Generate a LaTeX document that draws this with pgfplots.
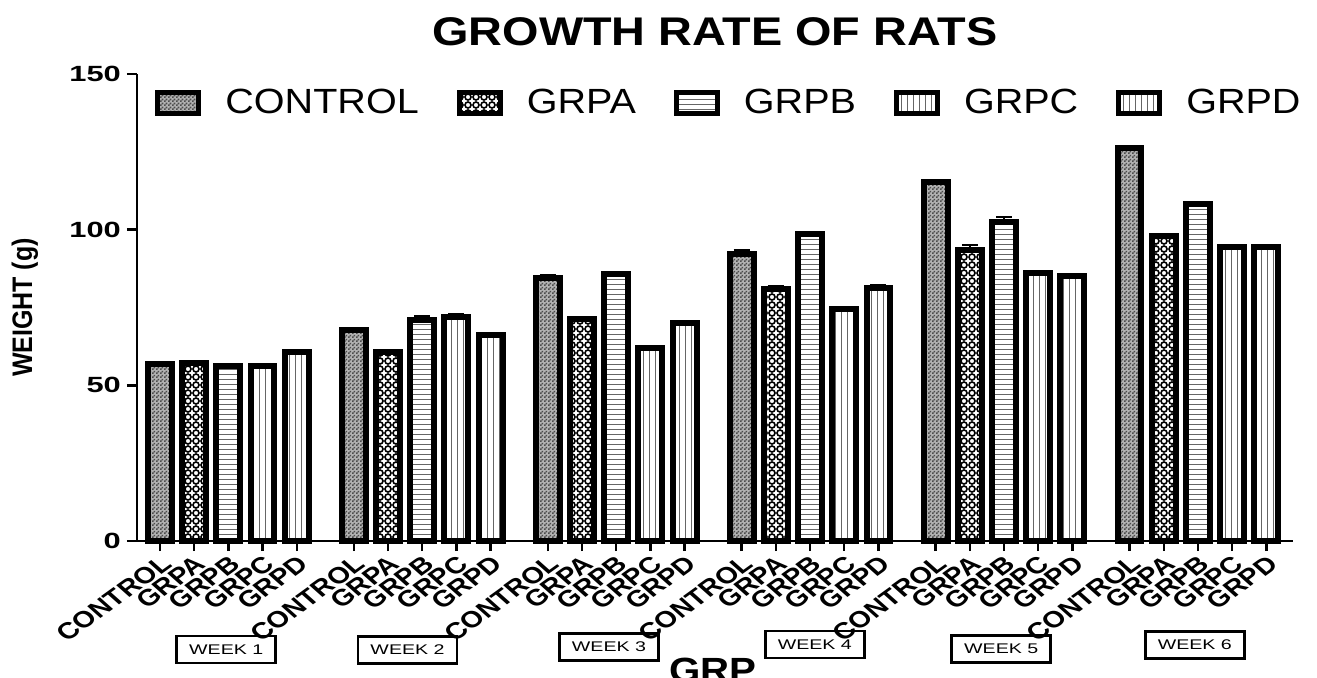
\documentclass[border=0pt]{standalone}
\usepackage{fontspec}
\setmainfont{Liberation Sans}
\usepackage{graphicx}
\usepackage{pgfplots}
\pgfplotsset{compat=1.18}
\usepackage{pgfplotstable}
\usetikzlibrary{patterns}

\pgfdeclarepatternformonly{circlechain}{\pgfqpoint{-0.5pt}{-0.5pt}}{\pgfqpoint{4.5pt}{4.5pt}}{\pgfqpoint{4pt}{4pt}}{%
  \pgfsetlinewidth{0.8pt}%
  \pgfpathcircle{\pgfqpoint{2pt}{2pt}}{1.5pt}%
  \pgfusepath{stroke}}
\pgfdeclarepatternformonly{hlinesfine}{\pgfqpoint{-1pt}{-1pt}}{\pgfqpoint{10pt}{3pt}}{\pgfqpoint{9pt}{2.5pt}}{%
  \pgfsetlinewidth{0.7pt}%
  \pgfpathmoveto{\pgfqpoint{-1pt}{1.25pt}}%
  \pgfpathlineto{\pgfqpoint{10pt}{1.25pt}}%
  \pgfusepath{stroke}}
\pgfdeclarepatternformonly{finecheck}{\pgfqpoint{0pt}{0pt}}{\pgfqpoint{2pt}{2pt}}{\pgfqpoint{2pt}{2pt}}{%
  \pgfpathrectangle{\pgfqpoint{0pt}{0pt}}{\pgfqpoint{1pt}{1pt}}%
  \pgfpathrectangle{\pgfqpoint{1pt}{1pt}}{\pgfqpoint{1pt}{1pt}}%
  \pgfusepath{fill}}

\pgfplotstableread{
x y e
0 56.8 0.5
5.67 67.7 0.8
11.34 84.6 0.8
17.01 92.1 1.4
22.68 115.2 0.8
28.35 126.1 0.5
}\ctrl
\pgfplotstableread{
x y e
1 57.1 0.5
6.67 60.8 0.5
12.34 71.3 0.5
18.01 80.9 0.8
23.68 93.6 1.5
29.35 98.1 0.5
}\grpa
\pgfplotstableread{
x y e
2 56.3 0.5
7.67 70.9 1.4
13.34 85.7 0.5
19.01 98.6 0.5
24.68 102.6 1.5
30.35 108.4 0.5
}\grpb
\pgfplotstableread{
x y e
3 56.3 0.5
8.67 71.8 1.1
14.34 61.9 0.5
20.01 74.5 0.5
25.68 86.2 0.5
31.35 94.3 0.5
}\grpc
\pgfplotstableread{
x y e
4 60.6 0.5
9.67 66.2 0.5
15.34 69.9 0.5
21.01 81.4 0.8
26.68 85.0 0.5
32.35 94.3 0.5
}\grpd

\newcommand{\wk}[1]{\scalebox{1.4}[1]{\fontsize{7}{8}\selectfont #1}}
\newcommand{\lgd}[1]{\scalebox{1.13}[1]{#1}}

\begin{document}
\begin{tikzpicture}
\begin{axis}[
  scale only axis,
  width=578pt, height=233.5pt,
  xmin=-0.67, xmax=33.13,
  ymin=0, ymax=150,
  ytick={0,50,100,150},
  axis lines*=left,
  axis line style={line width=1.4pt},
  tick align=outside,
  major tick length=5pt,
  every tick/.style={line width=1.2pt, black},
  /pgf/number format/assume math mode=true,
  yticklabel style={font=\bfseries\fontsize{11}{13}\selectfont, xscale=1.4, inner sep=2pt},
  xtick={0,1,2,3,4,5.67,6.67,7.67,8.67,9.67,11.34,12.34,13.34,14.34,15.34,17.01,18.01,19.01,20.01,21.01,22.68,23.68,24.68,25.68,26.68,28.35,29.35,30.35,31.35,32.35},
  xticklabels={CONTROL,GRPA,GRPB,GRPC,GRPD,CONTROL,GRPA,GRPB,GRPC,GRPD,CONTROL,GRPA,GRPB,GRPC,GRPD,CONTROL,GRPA,GRPB,GRPC,GRPD,CONTROL,GRPA,GRPB,GRPC,GRPD,CONTROL,GRPA,GRPB,GRPC,GRPD},
  xticklabel style={font=\bfseries\fontsize{11.5}{13}\selectfont, xscale=1.25, rotate=42, anchor=north east, inner sep=1pt},
  ylabel={\scalebox{1}[1.13]{WEIGHT (g)}},
  ylabel style={font=\bfseries\fontsize{12.5}{14}\selectfont, at={(axis description cs:-0.097,0.5)}, anchor=center},
  xlabel={\scalebox{1.15}[1]{GRP}},
  xlabel style={font=\bfseries\fontsize{17.5}{20}\selectfont, at={(axis description cs:0.498,-0.278)}, anchor=center},
  title={\scalebox{1.17}[1]{GROWTH RATE OF RATS}},
  every axis title shift=0pt,
  title style={font=\bfseries\fontsize{20}{24}\selectfont, at={(axis description cs:0.5,1.09)}, anchor=center},
  clip=false,
  ybar,
  bar width=0.70,
  error bars/y dir=plus,
  error bars/y explicit,
  error bars/error bar style={line width=1.2pt, black},
  error bars/error mark options={rotate=90, mark size=4pt, line width=1.2pt, black},
  legend columns=-1,
  legend style={at={(axis description cs:0.0156,0.938)}, anchor=west, draw=none, fill=none,
    inner sep=0pt, font=\fontsize{17.5}{20}\selectfont,
    nodes={inner sep=0pt},
    /tikz/every odd column/.append style={column sep=12pt},
    /tikz/every even column/.append style={column sep=19pt}},
  legend image code/.code={\draw[#1, line width=2.5pt] (1.25pt,-5.25pt) rectangle (21.75pt,5.25pt);},
]
\addplot[draw=black, line width=3pt, bar shift=0pt, fill=gray!60, postaction={pattern=finecheck, pattern color=black!70}] table[x=x, y=y, y error=e] {\ctrl};
\addlegendentry{\lgd{CONTROL}}
\addplot[draw=black, line width=3pt, bar shift=0pt, fill=white, postaction={pattern=circlechain, pattern color=black}] table[x=x, y=y, y error=e] {\grpa};
\addlegendentry{\lgd{GRPA}}
\addplot[draw=black, line width=3pt, bar shift=0pt, fill=white, postaction={pattern=hlinesfine, pattern color=black!60}] table[x=x, y=y, y error=e] {\grpb};
\addlegendentry{\lgd{GRPB}}
\addplot[draw=black, line width=3pt, bar shift=0pt, fill=white, postaction={pattern=vertical lines, pattern color=black!60}] table[x=x, y=y, y error=e] {\grpc};
\addlegendentry{\lgd{GRPC}}
\addplot[draw=black, line width=3pt, bar shift=0pt, fill=white, postaction={pattern=vertical lines, pattern color=black!60}] table[x=x, y=y, y error=e] {\grpd};
\addlegendentry{\lgd{GRPD}}

\node[draw=black, line width=1.3pt, minimum width=49.5pt, minimum height=13.5pt, inner sep=0pt] at (axis cs:1.94,-34.9) {\wk{WEEK 1}};
\node[draw=black, line width=1.3pt, minimum width=49.5pt, minimum height=13.5pt, inner sep=0pt] at (axis cs:7.24,-35.0) {\wk{WEEK 2}};
\node[draw=black, line width=1.3pt, minimum width=49.5pt, minimum height=13.5pt, inner sep=0pt] at (axis cs:13.13,-34.0) {\wk{WEEK 3}};
\node[draw=black, line width=1.3pt, minimum width=49.5pt, minimum height=13.5pt, inner sep=0pt] at (axis cs:19.15,-33.2) {\wk{WEEK 4}};
\node[draw=black, line width=1.3pt, minimum width=49.5pt, minimum height=13.5pt, inner sep=0pt] at (axis cs:24.6,-34.7) {\wk{WEEK 5}};
\node[draw=black, line width=1.3pt, minimum width=49.5pt, minimum height=13.5pt, inner sep=0pt] at (axis cs:30.26,-33.4) {\wk{WEEK 6}};
\end{axis}
\pgfresetboundingbox
\path (-68.5pt,-68pt) rectangle (590pt,270.5pt);
\end{tikzpicture}
\end{document}
